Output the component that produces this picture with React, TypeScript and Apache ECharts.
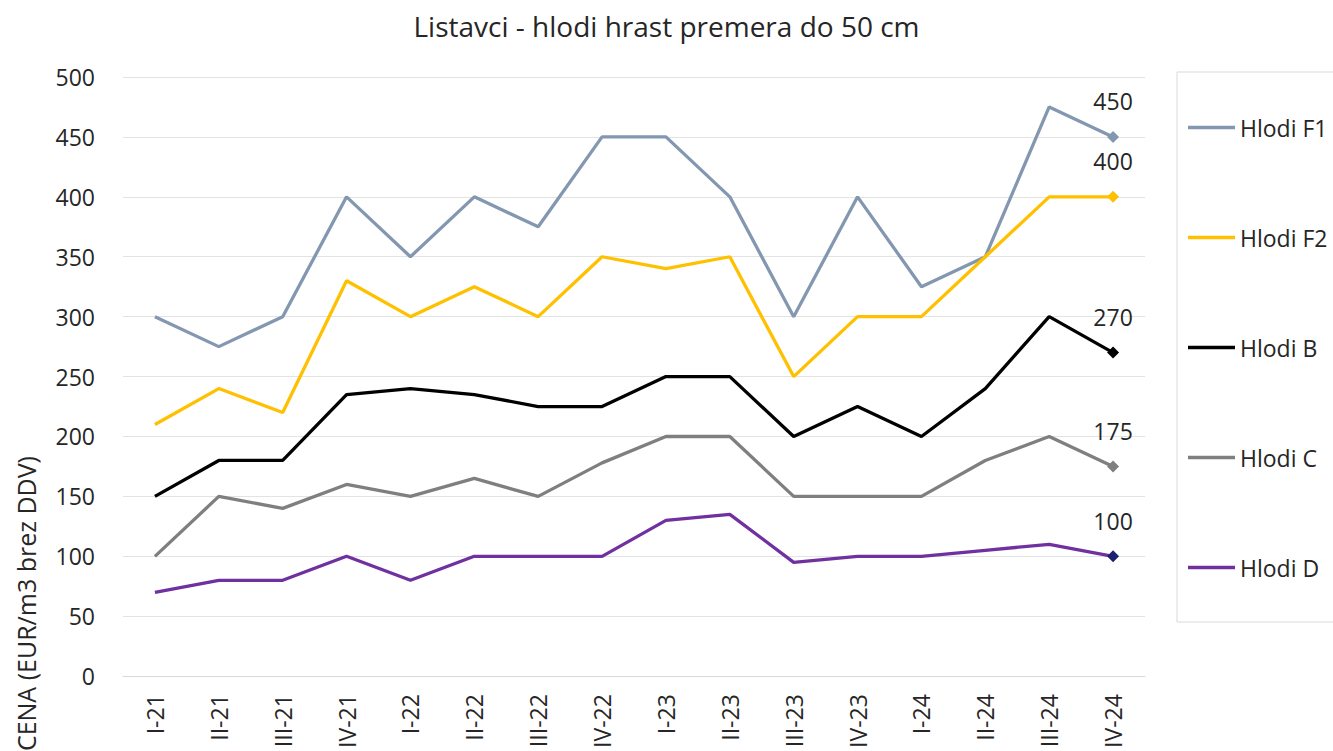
import React, { useEffect, useRef } from "react";
import * as echarts from "echarts";

const categories = [
  "I-21", "II-21", "III-21", "IV-21",
  "I-22", "II-22", "III-22", "IV-22",
  "I-23", "II-23", "III-23", "IV-23",
  "I-24", "II-24", "III-24", "IV-24",
];

const hlodiF1 = [300, 275, 300, 400, 350, 400, 375, 450, 450, 400, 300, 400, 325, 350, 475, 450];
const hlodiF2 = [210, 240, 220, 330, 300, 325, 300, 350, 340, 350, 250, 300, 300, 350, 400, 400];
const hlodiB = [150, 180, 180, 235, 240, 235, 225, 225, 250, 250, 200, 225, 200, 240, 300, 270];
const hlodiC = [100, 150, 140, 160, 150, 165, 150, 178, 200, 200, 150, 150, 150, 180, 200, 175];
const hlodiD = [70, 80, 80, 100, 80, 100, 100, 100, 130, 135, 95, 100, 100, 105, 110, 100];

const seriesDefs = [
  { name: "Hlodi F1", data: hlodiF1, color: "#8497B0", marker: "#8497B0" },
  { name: "Hlodi F2", data: hlodiF2, color: "#FFC000", marker: "#FFC000" },
  { name: "Hlodi B", data: hlodiB, color: "#000000", marker: "#000000" },
  { name: "Hlodi C", data: hlodiC, color: "#7F7F7F", marker: "#7F7F7F" },
  { name: "Hlodi D", data: hlodiD, color: "#7030A0", marker: "#1F1F70" },
];

const FONT = "'Open Sans', 'Noto Sans', sans-serif";
const TEXT = "#262626";

export default function App() {
  const ref = useRef<HTMLDivElement>(null);

  useEffect(() => {
    if (!ref.current) return;
    const chart = echarts.init(ref.current, undefined, { renderer: "svg" });
    const last = categories.length - 1;

    const series = seriesDefs.map((s) => ({
      name: s.name,
      type: "line",
      symbol: "none",
      showSymbol: true,
      lineStyle: { color: s.color, width: 3.3 },
      itemStyle: { color: s.color },
      data: s.data.map((v, i) =>
        i === last
          ? {
              value: v,
              symbol: "diamond",
              symbolSize: 12,
              itemStyle: { color: s.marker },
              label: {
                show: true,
                position: "top",
                distance: 18,
                formatter: "{c}",
                fontFamily: FONT,
                fontSize: 23,
                color: TEXT,
              },
            }
          : v
      ),
    }));

    chart.setOption({
      animation: false,
      backgroundColor: "#ffffff",
      textStyle: { fontFamily: FONT },
      title: {
        text: "Listavci - hlodi hrast premera do 50 cm",
        left: "center",
        top: 12,
        padding: 0,
        textStyle: { fontFamily: FONT, fontSize: 28, fontWeight: "normal", color: TEXT },
      },
      legend: {
        orient: "vertical",
        left: 1177,
        top: 72,
        padding: [44, 30, 43, 11],
        itemGap: 87,
        itemWidth: 47,
        itemHeight: 3.5,
        icon: "rect",
        borderColor: "#D9D9D9",
        borderWidth: 1,
        textStyle: { fontFamily: FONT, fontSize: 23, color: TEXT },
        data: seriesDefs.map((s) => s.name),
      },
      grid: { left: 123, right: 188, top: 77, bottom: 73, containLabel: false },
      xAxis: {
        type: "category",
        data: categories,
        boundaryGap: true,
        axisLine: { lineStyle: { color: "#D9D9D9", width: 1 } },
        axisTick: { show: false },
        axisLabel: {
          rotate: 90,
          margin: 18,
          interval: 0,
          fontFamily: FONT,
          fontSize: 23,
          color: TEXT,
        },
      },
      yAxis: {
        type: "value",
        min: 0,
        max: 500,
        interval: 50,
        axisLine: { show: false },
        axisTick: { show: false },
        splitLine: { lineStyle: { color: "#E3E3E3", width: 1 } },
        axisLabel: { margin: 28, fontFamily: FONT, fontSize: 23, color: TEXT },
      },
      graphic: [
        {
          type: "text",
          x: 26,
          y: 456,
          rotation: Math.PI / 2,
          style: {
            text: "CENA (EUR/m3 brez DDV)",
            fontFamily: FONT,
            fontSize: 25,
            fill: TEXT,
            textAlign: "right",
            textVerticalAlign: "middle",
          },
        },
      ],
      series,
    });

    return () => chart.dispose();
  }, []);

  return (
    <div
      ref={ref}
      style={{ position: "fixed", left: 0, top: 0, width: 1333, height: 751, background: "#fff" }}
    />
  );
}
